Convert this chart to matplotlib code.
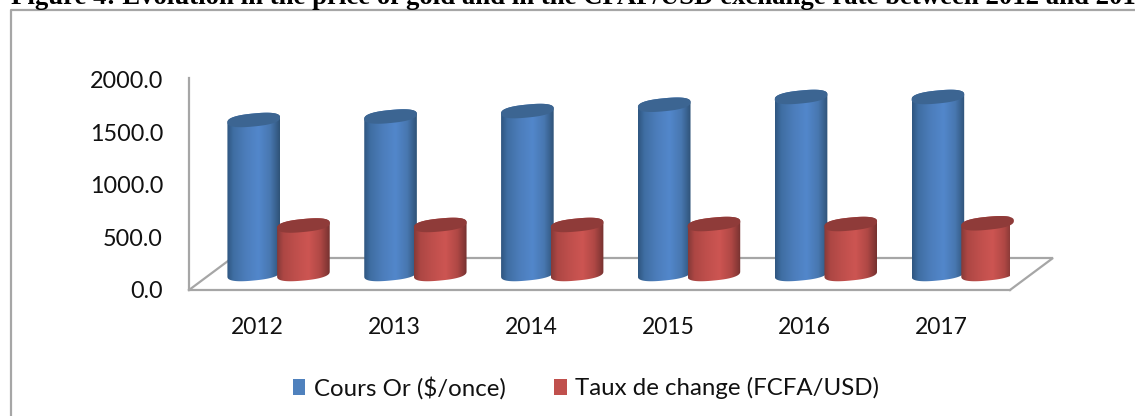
import numpy as np
import matplotlib
matplotlib.use("Agg")
import matplotlib.pyplot as plt
from matplotlib.colors import LinearSegmentedColormap
from matplotlib.patches import Patch, PathPatch
from matplotlib.path import Path

years = ["2012", "2013", "2014", "2015", "2016", "2017"]
gold = [1467, 1500, 1552, 1612, 1686, 1686]
fx = [462, 467, 467, 476, 476, 483]
y_ticks = [0, 500, 1000, 1500, 2000]
series_names = ["Cours Or ($/once)", "Taux de change (FCFA/USD)"]
title = "Figure 4: Evolution in the price of gold and in the CFAF/USD exchange rate between 2012 and 2017"

W, H = 1135, 416
fig = plt.figure(figsize=(W / 100, H / 100), dpi=100, facecolor="white")
L, R, Y0, Y2K = 189, 1010, 290, 80
YTOP = 2020
top_px = Y0 - (Y0 - Y2K) * YTOP / 2000
ax = fig.add_axes([L / W, 1 - Y0 / H, (R - L) / W, (Y0 - top_px) / H])
ax.patch.set_alpha(0)
px_x = 6 / (R - L)            # data units per pixel, x
px_y = 2000 / (Y0 - Y2K)      # data units per pixel, y

GREY = "#a6a6a6"
for s in ["top", "right"]:
    ax.spines[s].set_visible(False)
for s in ["left", "bottom"]:
    ax.spines[s].set_color(GREY)
    ax.spines[s].set_linewidth(1.6)

# floor of the 3-D box
dx, dy = 43 * px_x, 32 * px_y
xa, xb = -0.5, 5.5
ax.plot([xa, xa + dx, xb + dx, xb], [0, dy, dy, 0], color=GREY, lw=1.6,
        clip_on=False, zorder=1, solid_joinstyle="miter")

blue_cm = LinearSegmentedColormap.from_list(
    "b", [(0, "#2f5680"), (.12, "#3f6ea3"), (.35, "#4c7dbb"), (.6, "#5287cb"), (.82, "#4877b0"), (1, "#2f5378")])
red_cm = LinearSegmentedColormap.from_list(
    "r", [(0, "#853a38"), (.12, "#ad4744"), (.35, "#bf4f4c"), (.6, "#cd5552"), (.82, "#b04845"), (1, "#763230")])
grad = np.linspace(0, 1, 128).reshape(1, -1)

A, TILT, B = 26.3, 2.5, 6.5   # ellipse half width, tilt, half height in pixels


def ell(cx, cy, t):
    # a slightly squared ellipse, closer to the rendered 3-D cap
    c, s = np.cos(t), np.sin(t)
    c2 = np.sign(c) * np.abs(c) ** 0.8
    s2 = np.sign(s) * np.abs(s) ** 0.8
    return (cx + A * c2 * px_x,
            cy + (TILT * c2 + B * s2) * px_y)


def cylinder(cx, base, value, cmap, top_color, z):
    t_low = np.linspace(np.pi, 2 * np.pi, 60)
    t_up = np.linspace(0, np.pi, 60)
    bx, by = ell(cx, base, t_low)
    tx, ty = ell(cx, base + value, t_up)
    verts = np.column_stack([np.r_[bx, tx], np.r_[by, ty]])
    body = Path(np.vstack([verts, verts[0]]), closed=True)
    patch = PathPatch(body, fc="none", ec="none", transform=ax.transData, zorder=z)
    ax.add_patch(patch)
    im = ax.imshow(grad, cmap=cmap, aspect="auto", zorder=z, interpolation="bilinear",
                   extent=[cx - A * px_x, cx + A * px_x, base - 10 * px_y, base + value + 10 * px_y])
    im.set_clip_path(patch)
    t = np.linspace(0, 2 * np.pi, 100)
    ex, ey = ell(cx, base + value, t)
    ax.fill(ex, ey, color=top_color, lw=0, zorder=z + 0.1, clip_on=False)


base_y = 16 * px_y
for i in range(len(years)):
    cylinder(i - 3.7 * px_x, base_y, gold[i], blue_cm, "#3c6592", 3 + i * 0.01)
    cylinder(i + 46 * px_x, base_y, fx[i], red_cm, "#8f3b39", 4 + i * 0.01)

ax.set_xlim(-0.5, 5.5)
ax.set_ylim(0, YTOP)

ax.set_xticks(range(len(years)), years)
ax.set_yticks(y_ticks, [f"{v:.1f}" for v in y_ticks])
ax.tick_params(axis="both", length=0)
ax.tick_params(axis="x", pad=19.5)
ax.tick_params(axis="y", pad=26 * 0.72)
for lab in ax.get_xticklabels():
    lab.set(fontfamily="Lato", fontsize=16.5, color="#111111")
for lab in ax.get_yticklabels():
    lab.set(fontfamily="Lato", fontsize=16.8, color="#111111")

handles = [Patch(fc="#4f81bd", ec="none"), Patch(fc="#c0504d", ec="none")]
fig.legend(handles, series_names, loc="center left",
           bbox_to_anchor=(293 / W, 1 - 388 / H), ncol=2, frameon=False,
           prop=dict(family="Lato", size=17.3), labelcolor="#111111",
           handlelength=0.52, handleheight=0.6, handletextpad=0.34,
           columnspacing=2.03, borderpad=0, borderaxespad=0)

# chart frame, open at the bottom and right of the crop
fig.add_artist(plt.Line2D([10.5 / W, 10.5 / W, 1], [0, 1 - 9.5 / H, 1 - 9.5 / H],
                          color=GREY, lw=1.6, transform=fig.transFigure))

fig.text(11 / W, 1 - 3.5 / H, title, family="Liberation Serif", weight="bold",
         fontsize=19.3, color="black", ha="left", va="baseline")

fig.savefig("out.png", dpi=100)
